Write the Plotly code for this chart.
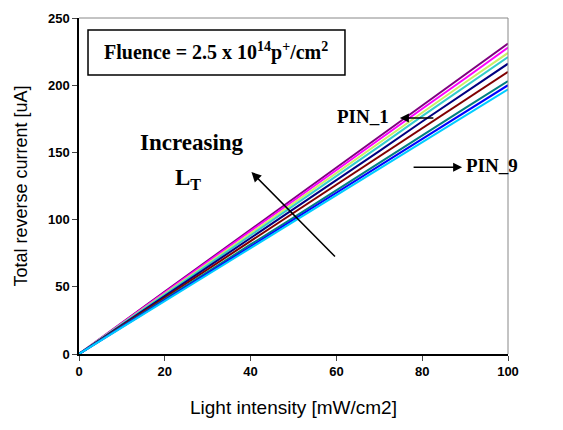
import plotly.graph_objects as go

intensity = [0, 10, 20, 30, 40, 50, 60, 70, 80, 90, 100]
pin_names = ["PIN_1", "PIN_2", "PIN_3", "PIN_4", "PIN_5", "PIN_6", "PIN_7", "PIN_8", "PIN_9"]
pin_colors = ["#800080", "#FF00FF", "#CCEE66", "#33CCCC", "#000080", "#800000", "#008080", "#0000FF", "#00CCFF"]
currents = [
    [0, 23.5, 46.5, 69.5, 92.5, 115.5, 138.5, 161.5, 185, 208, 231],
    [0, 23.0, 46.0, 68.5, 91.5, 114.0, 137.0, 159.5, 182.5, 205, 228],
    [0, 22.5, 45.0, 67.5, 90.0, 112.0, 134.5, 157.0, 179.5, 202, 224],
    [0, 22.0, 44.5, 66.5, 88.5, 110.5, 132.5, 154.5, 177.0, 199, 221],
    [0, 21.5, 43.5, 65.0, 86.5, 108.0, 129.5, 151.0, 173.0, 194.5, 216],
    [0, 21.0, 42.0, 63.0, 84.0, 105.0, 126.0, 147.0, 168.0, 189, 210],
    [0, 20.5, 41.0, 61.0, 81.5, 101.5, 122.0, 142.0, 162.5, 183, 203],
    [0, 20.0, 40.0, 60.0, 80.0, 100.0, 120.0, 140.0, 160.0, 180, 200],
    [0, 19.7, 39.5, 59.0, 79.0, 98.5, 118.0, 138.0, 157.5, 177, 197],
]
x_ticks = [0, 20, 40, 60, 80, 100]
y_ticks = [0, 50, 100, 150, 200, 250]

fig = go.Figure()
for name, color, ys in zip(pin_names, pin_colors, currents):
    fig.add_trace(go.Scatter(x=intensity, y=ys, mode="lines", name=name,
                             line=dict(color=color, width=2)))

sans = "Arial, Liberation Sans, sans-serif"
tick_font = dict(family=sans, size=13, color="black", weight="bold")
fig.update_layout(
    width=563, height=430,
    margin=dict(l=71, r=63, t=10, b=84),
    paper_bgcolor="white", plot_bgcolor="white",
    showlegend=False,
    xaxis=dict(range=[0, 100], tickvals=x_ticks, ticks="outside", ticklen=5,
               showline=True, linecolor="black", linewidth=1.5, mirror=False,
               showgrid=False, zeroline=False, tickfont=tick_font, automargin=False,
               title=dict(text="Light intensity [mW/cm2]", font=dict(family=sans, size=19, color="black"), standoff=22)),
    yaxis=dict(range=[0, 250], tickvals=y_ticks, ticks="outside", ticklen=5,
               showline=True, linecolor="black", linewidth=1.5, mirror=False,
               showgrid=False, zeroline=False, tickfont=tick_font, automargin=False,
               title=dict(text="Total reverse current [uA]", font=dict(family=sans, size=18, color="black"), standoff=16)),
)
# gray top/right frame
fig.add_shape(type="line", xref="paper", yref="paper", x0=0, x1=1, y0=1, y1=1, line=dict(color="#888888", width=1))
fig.add_shape(type="line", xref="paper", yref="paper", x0=1, x1=1, y0=0, y1=1, line=dict(color="#888888", width=1))
# fluence box
fig.add_shape(type="rect", xref="paper", yref="paper", x0=0.021, x1=0.62, y0=0.830, y1=0.964,
              line=dict(color="black", width=1.5), fillcolor="white", layer="above")

serif = "Times New Roman, Liberation Serif, DejaVu Serif, serif"
fig.add_annotation(xref="paper", yref="paper", x=0.32, y=0.899, xanchor="center", yanchor="middle",
                   text="<b>Fluence = 2.5 x 10<sup>14</sup>p<sup>+</sup>/cm<sup>2</sup></b>",
                   showarrow=False, font=dict(family=serif, size=20, color="black"))
fig.add_annotation(x=74.8, y=175.6, ax=35, ay=0,
                   text="", showarrow=True, arrowhead=2, arrowsize=1.2, arrowwidth=1.5, arrowcolor="black")
fig.add_annotation(x=66.2, y=176.5, text="<b>PIN_1</b>", showarrow=False, xanchor="center",
                   font=dict(family=serif, size=19, color="black"))
fig.add_annotation(x=89.3, y=139, ax=-50, ay=0,
                   text="", showarrow=True, arrowhead=2, arrowsize=1.2, arrowwidth=1.5, arrowcolor="black")
fig.add_annotation(x=96.2, y=140, text="<b>PIN_9</b>", showarrow=False, xanchor="center",
                   font=dict(family=serif, size=19, color="black"))
fig.add_annotation(x=40.2, y=135.4, ax=85, ay=86,
                   text="", showarrow=True, arrowhead=2, arrowsize=1.3, arrowwidth=1.5, arrowcolor="black")
fig.add_annotation(x=26.4, y=157, text="<b>Increasing</b>", showarrow=False,
                   font=dict(family=serif, size=23, color="black"))
fig.add_annotation(x=25.5, y=130, text="<b>L<sub>T</sub></b>", showarrow=False,
                   font=dict(family=serif, size=23, color="black"))

fig.write_html("out.html")
